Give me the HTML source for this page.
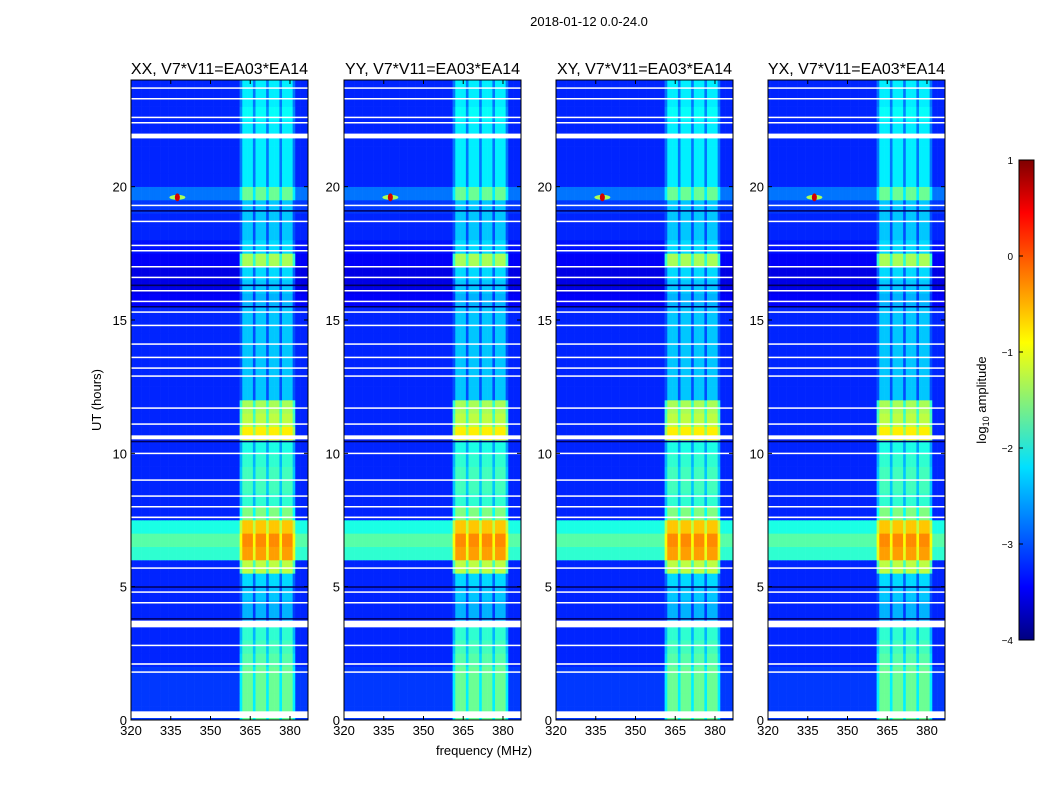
<!DOCTYPE html>
<html><head><meta charset="utf-8"><style>
body{margin:0;background:#fff;font-family:"Liberation Sans",sans-serif}
svg text{font-family:"Liberation Sans",sans-serif}
</style></head><body>
<svg id="c" width="1050" height="800" xmlns="http://www.w3.org/2000/svg">
<defs><linearGradient id="jet" x1="0" y1="1" x2="0" y2="0">
<stop offset="0" stop-color="#00007f"/><stop offset="0.11" stop-color="#0000ff"/><stop offset="0.36" stop-color="#00e0ff"/><stop offset="0.62" stop-color="#ffff00"/><stop offset="0.89" stop-color="#ff0000"/><stop offset="1" stop-color="#7f0000"/></linearGradient></defs>
<text x="589" y="26" font-size="13" text-anchor="middle">2018-01-12 0.0-24.0</text>
<text x="101" y="400" font-size="13" text-anchor="middle" transform="rotate(-90 101 400)">UT (hours)</text>
<text x="484" y="755" font-size="13" text-anchor="middle">frequency (MHz)</text>
<rect x="1019" y="160" width="15" height="480" fill="url(#jet)" stroke="#000"/>
<text x="986" y="400" font-size="13" text-anchor="middle" transform="rotate(-90 986 400)">log<tspan font-size="9" dy="3">10</tspan><tspan dy="-3"> amplitude</tspan></text>
<g id="cbt"></g>
</svg>
<script>
const panelTitles=["XX, V7*V11=EA03*EA14","YY, V7*V11=EA03*EA14","XY, V7*V11=EA03*EA14","YX, V7*V11=EA03*EA14"];
const xTicks=[320,335,350,365,380];
const yTicks=[0,5,10,15,20];
const cbTicks=[1,0,-1,-2,-3,-4];
// background level per 0.5h bin (0..24h)
const bgLevel=[-3.1,-3.1,-3.1,-3.1,-3.2,-3.2,-3.2,-3.2,-3.2,-3.2,-3.2,-3.2,-1.9,-1.7,-2.0,-3.2,-3.2,-3.2,-3.2,-3.2,-3.2,-3.2,-3.2,-3.2,-3.2,-3.2,-3.2,-3.2,-3.2,-3.2,-3.2,-3.4,-3.5,-3.5,-3.4,-3.3,-3.2,-3.2,-3.1,-2.8,-3.2,-3.2,-3.2,-3.2,-3.2,-3.2,-3.2,-3.2];
// RFI band level per 0.5h bin
const rfiLevel=[-1.6,-1.6,-1.6,-1.6,-1.7,-1.8,-1.9,-2.5,-2.5,-2.4,-2.3,-1.2,-0.4,-0.3,-0.6,-1.5,-1.9,-1.8,-1.8,-1.9,-2.0,-0.8,-1.2,-1.3,-2.4,-2.4,-2.4,-2.4,-2.4,-2.4,-2.4,-2.5,-2.4,-2.3,-1.3,-2.3,-2.4,-2.4,-2.4,-1.6,-2.2,-2.2,-2.2,-2.2,-2.2,-2.1,-2.2,-2.2];
// RFI sub-bands (MHz)
const rfiBands=[[362,366.5],[367.5,371.5],[372.5,376.5],[377.5,381.5]];
// flagged (white) rows: [hour, thickness h]
const flagRows=[[0.2,0.25],[1.8,0.05],[2.1,0.06],[2.8,0.05],[3.6,0.25],[4.4,0.05],[4.8,0.05],[5.7,0.05],[7.6,0.06],[8.0,0.05],[8.4,0.05],[9.0,0.05],[10.0,0.05],[10.6,0.15],[11.1,0.05],[11.7,0.05],[12.9,0.05],[13.2,0.05],[13.6,0.05],[14.1,0.05],[14.8,0.05],[15.3,0.05],[15.7,0.05],[16.1,0.05],[16.6,0.05],[17.0,0.05],[17.6,0.05],[17.8,0.05],[18.7,0.05],[19.3,0.05],[21.9,0.18],[22.4,0.05],[22.6,0.05],[23.3,0.05],[23.7,0.05]];
// dark rows: [hour, thickness h]
const darkRows=[[3.8,0.04],[5.0,0.03],[10.45,0.04],[15.5,0.05],[16.3,0.06],[19.1,0.04]];
// bright point source [hour, freq, level]
const spike=[19.6,337.5,0.6];
const NS="http://www.w3.org/2000/svg";
const svg=document.getElementById('c');
const px0=[131,344,556,768],PW=177,PT=80,PB=720,F0=320,F1=386.8;
function jet(v){let t=Math.max(0,Math.min(1,(v+4)/5));
 function c(x){return Math.max(0,Math.min(1,x));}
 const r=c(1.5-Math.abs(4*t-3)),g=c(1.5-Math.abs(4*t-2)),b=c(1.5-Math.abs(4*t-1));
 return `rgb(${Math.round(r*255)},${Math.round(g*255)},${Math.round(b*255)})`;}
function yS(h){return PB-(h/24)*(PB-PT);}
function mk(tag,at,par){const e=document.createElementNS(NS,tag);for(const k in at)e.setAttribute(k,at[k]);(par||svg).appendChild(e);return e;}
function inBand(f){for(const b of rfiBands)if(f>=b[0]&&f<b[1])return true;return false;}
px0.forEach((x0,p)=>{
 const xS=f=>x0+(f-F0)/(F1-F0)*PW;
 const g=mk('g',{});
 
 
 for(let i=0;i<bgLevel.length;i++){
  for(let f=F0;f<F1;f+=1){
   let v=bgLevel[i];
   if(inBand(f+0.5))v=Math.max(v,rfiLevel[i]);
   else if(f>=361&&f<382)v=Math.max(v,rfiLevel[i]-0.6);
   const w=Math.min(f+1,F1)-f;
   const r=mk('rect',{x:xS(f).toFixed(2),y:yS(i*0.5+0.5).toFixed(2),width:(w/(F1-F0)*PW+0.3).toFixed(2),height:(PB-PT)/48+0.3,fill:jet(v)},g);
   
   
  }
 }
 darkRows.forEach(d=>{const r=mk('rect',{x:x0,y:yS(d[0]+d[1]/2),width:PW,height:Math.max(1.5,d[1]*26.67),fill:'#00005a'},g);
  });
 flagRows.forEach(d=>{const r=mk('rect',{x:x0,y:yS(d[0]+d[1]/2),width:PW,height:Math.max(1.5,d[1]*26.67),fill:'#fff'},g);
  });
 const s1=mk('ellipse',{cx:xS(spike[1]),cy:yS(spike[0]),rx:8,ry:2.5,fill:jet(-1.3)},g);
 
 const s=mk('ellipse',{cx:xS(spike[1]),cy:yS(spike[0]),rx:2.5,ry:4,fill:jet(spike[2])},g);
 
 const fr=mk('rect',{x:x0,y:PT,width:PW,height:PB-PT,fill:'none',stroke:'#000','stroke-width':1});
 
 const t=mk('text',{x:x0+PW/2,y:74,'font-size':16,'text-anchor':'middle'});t.textContent=panelTitles[p];
 
 xTicks.forEach(v=>{const x=xS(v);mk('line',{x1:x,x2:x,y1:PB,y2:PB-4,stroke:'#000'});mk('line',{x1:x,x2:x,y1:PT,y2:PT+4,stroke:'#000'});
  const tl=mk('text',{x:x,y:PB+15,'font-size':13,'text-anchor':'middle'});tl.textContent=v;
  });
 yTicks.forEach(v=>{const y=yS(v);mk('line',{x1:x0,x2:x0+4,y1:y,y2:y,stroke:'#000'});mk('line',{x1:x0+PW,x2:x0+PW-4,y1:y,y2:y,stroke:'#000'});
  const tl=mk('text',{x:x0-4,y:y+5,'font-size':13,'text-anchor':'end'});tl.textContent=v;
  });
});
const cbt=document.getElementById('cbt');
cbTicks.forEach(v=>{const y=640-(v+4)/5*480;
 mk('line',{x1:1019,x2:1023,y1:y,y2:y,stroke:'#000'},cbt);
 const t=mk('text',{x:1013,y:y+4,'font-size':10,'text-anchor':'end'},cbt);t.textContent=v<0?'\u2212'+(-v):v;
 });
</script>
</body></html>
